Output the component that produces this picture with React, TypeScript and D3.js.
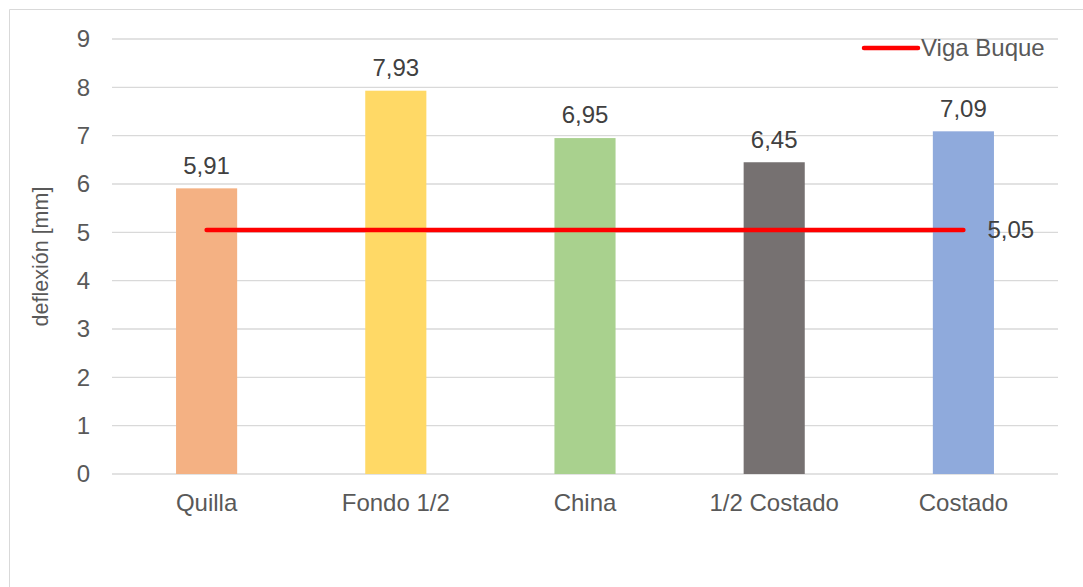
import React from "react";
import * as d3 from "d3";

const categories = ["Quilla", "Fondo 1/2", "China", "1/2 Costado", "Costado"];
const deflections = [5.91, 7.93, 6.95, 6.45, 7.09];
const barColors = ["#F4B183", "#FFD966", "#A9D18E", "#767171", "#8FAADC"];
const beamValues = [5.05, 5.05, 5.05, 5.05, 5.05];
const yTicks = [0, 1, 2, 3, 4, 5, 6, 7, 8, 9];
const seriesName = "Viga Buque";
const yTitle = "deflexión [mm]";

const W = 1083;
const H = 587;
const M = { left: 112, right: 1058, top: 39, bottom: 474 };
const font = "'Liberation Sans', Arial, sans-serif";
const textColor = "#595959";

const fmt = (v: number) => v.toFixed(2).replace(".", ",");

export default function App() {
  const x = d3.scaleBand<string>().domain(categories).range([M.left, M.right]).paddingInner(0).paddingOuter(0);
  const y = d3.scaleLinear().domain([0, 9]).range([M.bottom, M.top]);
  const bw = x.bandwidth() * 0.323;
  const cx = (c: string) => (x(c) as number) + x.bandwidth() / 2;

  const line = d3
    .line<number>()
    .x((_, i) => cx(categories[i]))
    .y((d) => y(d));

  const last = categories.length - 1;

  return (
    <svg
      width={W}
      height={H}
      style={{ position: "absolute", left: 0, top: 0, display: "block" }}
      fontFamily={font}
    >
      <rect x={0} y={0} width={W} height={H} fill="#fff" />
      {/* chart frame */}
      <line x1={9.5} y1={9.5} x2={W} y2={9.5} stroke="#D9D9D9" strokeWidth={1} />
      <line x1={9.5} y1={9.5} x2={9.5} y2={H} stroke="#D9D9D9" strokeWidth={1} />

      {/* gridlines and tick labels */}
      {yTicks.map((t) => (
        <g key={t}>
          <line x1={M.left} x2={M.right} y1={y(t)} y2={y(t)} stroke="#D9D9D9" strokeWidth={1.3} />
          <text x={90} y={y(t)} dy="0.35em" textAnchor="end" fontSize={24} fill={textColor}>
            {t}
          </text>
        </g>
      ))}

      {/* bars */}
      {categories.map((c, i) => (
        <rect
          key={c}
          x={cx(c) - bw / 2}
          y={y(deflections[i])}
          width={bw}
          height={y(0) - y(deflections[i])}
          fill={barColors[i]}
        />
      ))}

      {/* bar value labels */}
      {categories.map((c, i) => (
        <text
          key={c}
          x={cx(c)}
          y={y(deflections[i]) - 23}
          dy="0.35em"
          textAnchor="middle"
          fontSize={24}
          fill="#404040"
        >
          {fmt(deflections[i])}
        </text>
      ))}

      {/* category labels */}
      {categories.map((c) => (
        <text key={c} x={cx(c)} y={503} dy="0.35em" textAnchor="middle" fontSize={24} fill={textColor}>
          {c}
        </text>
      ))}

      {/* beam line */}
      <path
        d={line(beamValues) as string}
        fill="none"
        stroke="#FF0000"
        strokeWidth={4.5}
        strokeLinecap="round"
      />
      <text
        x={cx(categories[last]) + 24}
        y={y(beamValues[last])}
        dy="0.35em"
        fontSize={24}
        fill="#404040"
      >
        {fmt(beamValues[last])}
      </text>

      {/* y-axis title */}
      <text
        transform={`translate(40, ${(M.top + M.bottom) / 2}) rotate(-90)`}
        textAnchor="middle"
        dy="0.35em"
        fontSize={21.5}
        fill={textColor}
      >
        {yTitle}
      </text>

      {/* legend */}
      <line x1={864} x2={918} y1={48} y2={48} stroke="#FF0000" strokeWidth={4.5} strokeLinecap="round" />
      <text x={921} y={48} dy="0.35em" fontSize={24} fill={textColor}>
        {seriesName}
      </text>
    </svg>
  );
}
